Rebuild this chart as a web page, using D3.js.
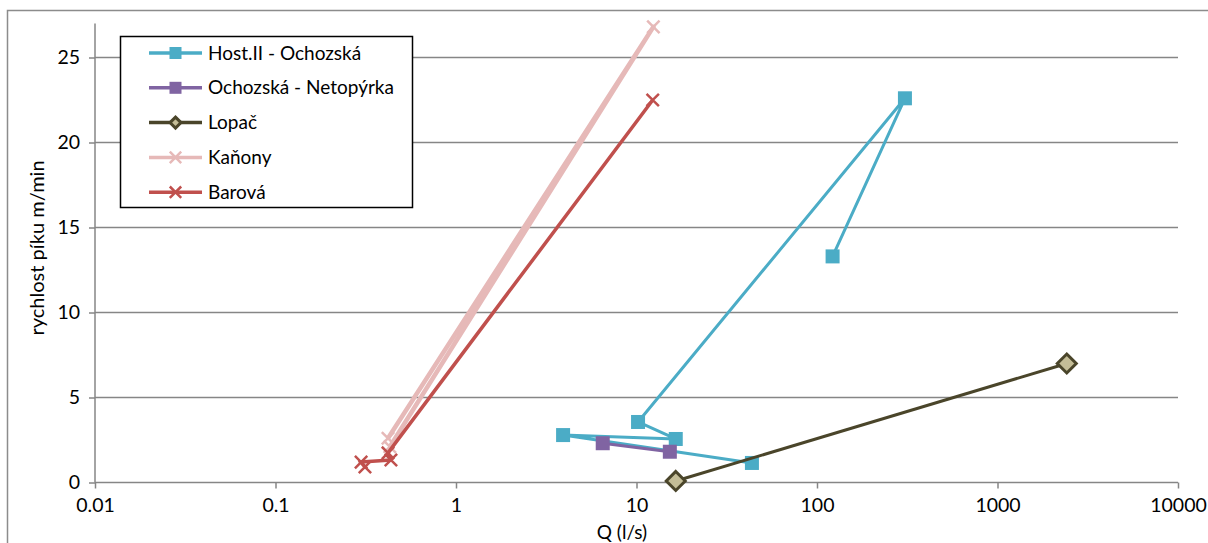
<!DOCTYPE html>
<html>
<head>
<meta charset="utf-8">
<script src="https://cdn.jsdelivr.net/npm/d3@7"></script>
<style>
  html, body { margin: 0; padding: 0; background: #fff; }
  svg { display: block; font-family: Lato, "Open Sans", sans-serif; }
</style>
</head>
<body>
<svg id="chart" width="1208" height="543"></svg>
<script>
// Series: Q (l/s) and peak velocity (m/min), in measurement order
const seriesNames = ["Host.II - Ochozská", "Ochozská - Netopýrka", "Lopač", "Kaňony", "Barová"];
const hostQ = [122, 307, 10.2, 16.5, 3.92, 43.6];
const hostV = [13.3, 22.6, 3.56, 2.56, 2.79, 1.15];
const ochozQ = [6.5, 15.3];
const ochozV = [2.31, 1.81];
const lopacQ = [16.5, 2420];
const lopacV = [0.09, 7.0];
const kanonyQ = [0.43, 12.4, 0.42];
const kanonyV = [2.1, 26.8, 2.6];
const barovaQ = [0.313, 0.298, 0.436, 0.42, 12.3];
const barovaV = [0.91, 1.2, 1.32, 1.74, 22.5];

const xTicks = [0.01, 0.1, 1, 10, 100, 1000, 10000];
const xTickLabels = ["0.01", "0.1", "1", "10", "100", "1000", "10000"];
const yTicks = [0, 5, 10, 15, 20, 25];

const styles = [
  { color: "#4BACC6", marker: "square", fill: "#4BACC6", stroke: null, width: 3 },
  { color: "#8064A2", marker: "square", fill: "#8064A2", stroke: null, width: 3 },
  { color: "#4A452A", marker: "diamond", fill: "#C4BD97", stroke: "#4A452A", width: 3 },
  { color: "#E6B9B8", marker: "x", fill: "none", stroke: "#E6B9B8", width: 4.5 },
  { color: "#C0504D", marker: "x", fill: "none", stroke: "#C0504D", width: 3.5 }
];

const series = [
  d3.zip(hostQ, hostV),
  d3.zip(ochozQ, ochozV),
  d3.zip(lopacQ, lopacV),
  d3.zip(kanonyQ, kanonyV),
  d3.zip(barovaQ, barovaV)
];

const svg = d3.select("#chart");
const plot = { left: 95, right: 1178, top: 23.5, bottom: 482.5 };

const x = d3.scaleLog().domain([0.01, 10000]).range([plot.left, plot.right]);
const y = d3.scaleLinear().domain([0, 27]).range([plot.bottom, plot.top]);

// chart area border
svg.append("rect")
  .attr("x", 7.5).attr("y", 10.5).attr("width", 1220).attr("height", 560)
  .attr("fill", "#fff").attr("stroke", "#8c8c8c").attr("stroke-width", 1.5);

// horizontal gridlines
svg.append("g")
  .selectAll("line")
  .data(yTicks.filter(d => d > 0))
  .join("line")
  .attr("x1", plot.left).attr("x2", plot.right)
  .attr("y1", d => y(d)).attr("y2", d => y(d))
  .attr("stroke", "#868686").attr("stroke-width", 1.5);

// y axis
const yAxis = svg.append("g")
  .attr("transform", `translate(${plot.left},0)`)
  .call(d3.axisLeft(y).tickValues(yTicks).tickSize(6).tickPadding(9).tickFormat(d3.format("d")));
yAxis.select(".domain").attr("stroke", "#868686").attr("stroke-width", 1.5)
  .attr("d", `M0,${plot.top}V${plot.bottom}`);
yAxis.selectAll(".tick line").attr("stroke", "#868686").attr("stroke-width", 1.5);
yAxis.selectAll(".tick text").attr("font-size", 19.5).attr("fill", "#000")
  .attr("font-family", "Lato, sans-serif");

// x axis
const xAxis = svg.append("g")
  .attr("transform", `translate(0,${plot.bottom})`)
  .call(d3.axisBottom(x).tickValues(xTicks).tickSize(6).tickPadding(10)
    .tickFormat((d, i) => xTickLabels[i]));
xAxis.select(".domain").attr("stroke", "#868686").attr("stroke-width", 1.5)
  .attr("d", `M${plot.left},0H${plot.right}`);
xAxis.selectAll(".tick line").attr("stroke", "#868686").attr("stroke-width", 1.5);
xAxis.selectAll(".tick text").attr("font-size", 19.5).attr("fill", "#000")
  .attr("font-family", "Lato, sans-serif");

// axis titles
svg.append("text")
  .attr("x", 622).attr("y", 539)
  .attr("text-anchor", "middle").attr("font-size", 19)
  .text("Q (l/s)");
svg.append("text")
  .attr("transform", "translate(44,248) rotate(-90)")
  .attr("text-anchor", "middle").attr("font-size", 20)
  .text("rychlost píku m/min");

// marker drawing
function drawMarker(g, st, size) {
  const h = size / 2;
  if (st.marker === "square") {
    g.append("rect").attr("x", -h).attr("y", -h).attr("width", size).attr("height", size)
      .attr("fill", st.fill);
  } else if (st.marker === "diamond") {
    g.append("path").attr("d", `M0,${-h}L${h},0L0,${h}L${-h},0Z`)
      .attr("fill", st.fill).attr("stroke", st.stroke).attr("stroke-width", 3);
  } else {
    const k = h * 0.95;
    g.append("path").attr("d", `M${-k},${-k}L${k},${k}M${-k},${k}L${k},${-k}`)
      .attr("stroke", st.stroke).attr("stroke-width", 2.5).attr("fill", "none");
  }
}

const line = d3.line().x(d => x(d[0])).y(d => y(d[1]));
const markerSize = [14, 14, 19, 13, 13];

series.forEach((pts, i) => {
  const st = styles[i];
  const g = svg.append("g");
  g.append("path").datum(pts).attr("d", line)
    .attr("fill", "none").attr("stroke", st.color)
    .attr("stroke-width", st.width).attr("stroke-linejoin", "round");
  g.selectAll("g.m").data(pts).join("g").attr("class", "m")
    .attr("transform", d => `translate(${x(d[0])},${y(d[1])})`)
    .each(function () { drawMarker(d3.select(this), st, markerSize[i]); });
});

// legend
const legend = svg.append("g");
legend.append("rect")
  .attr("x", 120.5).attr("y", 36.5).attr("width", 292).attr("height", 171)
  .attr("fill", "#fff").attr("stroke", "#000").attr("stroke-width", 1.5);
seriesNames.forEach((name, i) => {
  const st = styles[i];
  const ly = 53 + i * 34.8;
  const row = legend.append("g");
  row.append("line").attr("x1", 149).attr("x2", 202).attr("y1", ly).attr("y2", ly)
    .attr("stroke", st.color).attr("stroke-width", 3.5);
  const m = row.append("g").attr("transform", `translate(175.5,${ly})`);
  drawMarker(m, st, st.marker === "diamond" ? 11 : 12);
  row.append("text").attr("x", 208).attr("y", ly).attr("dy", "0.35em")
    .attr("font-size", 19).text(name);
});
</script>
</body>
</html>
